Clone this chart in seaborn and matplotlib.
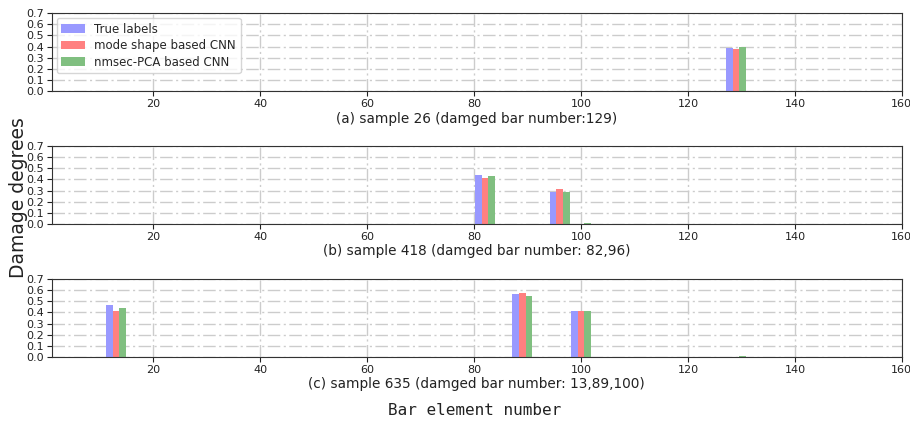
import numpy as np
import pandas as pd
import matplotlib
matplotlib.use("Agg")
import matplotlib.pyplot as plt
from matplotlib.patches import Patch
import seaborn as sns

# Number of bar elements in the structure
n_elements = 160

series_names = ["True labels", "mode shape based CNN", "nmsec-PCA based CNN"]
series_colors = ["#9999ff", "#ff8080", "#80bf80"]

# Sample 26: damaged elements and predicted damage degrees
s26_bars = [101, 129]
s26_true = [0.0, 0.390]
s26_mode = [0.004, 0.378]
s26_pca = [0.0, 0.398]

# Sample 418
s418_bars = [82, 96, 100]
s418_true = [0.437, 0.291, 0.0]
s418_mode = [0.414, 0.312, 0.0]
s418_pca = [0.432, 0.292, 0.006]

# Sample 635
s635_bars = [13, 89, 100, 129]
s635_true = [0.465, 0.561, 0.411, 0.0]
s635_mode = [0.417, 0.577, 0.411, 0.0]
s635_pca = [0.435, 0.546, 0.417, 0.005]

panel_titles = [
    "(a) sample 26 (damged bar number:129)",
    "(b) sample 418 (damged bar number: 82,96)",
    "(c) sample 635 (damged bar number: 13,89,100)",
]

y_ticks = [0.0, 0.1, 0.2, 0.3, 0.4, 0.5, 0.6, 0.7]
x_ticks = [20, 40, 60, 80, 100, 120, 140, 160]

samples = [
    (s26_bars, [s26_true, s26_mode, s26_pca]),
    (s418_bars, [s418_true, s418_mode, s418_pca]),
    (s635_bars, [s635_true, s635_mode, s635_pca]),
]


def build_frame(bars, series_values):
    elements = np.arange(1, n_elements + 1)
    frames = []
    for name, values in zip(series_names, series_values):
        damage = np.zeros(n_elements)
        damage[np.asarray(bars) - 1] = values
        frames.append(pd.DataFrame({"element": elements, "damage": damage, "series": name}))
    return pd.concat(frames, ignore_index=True)


sns.set_style("ticks", {
    "axes.grid": True,
    "grid.color": "#cccccc",
    "axes.edgecolor": "#333333",
    "axes.linewidth": 1.0,
})
plt.rcParams["grid.linewidth"] = 1.0
plt.rcParams["font.family"] = ["DejaVu Sans"]

fig = plt.figure(figsize=(9.1, 4.22), dpi=100)
palette = dict(zip(series_names, series_colors))

ax_left, ax_width, ax_height = 0.057, 0.934, 0.185
ax_bottoms = [0.784, 0.469, 0.154]

for i, ((bars, vals), title) in enumerate(zip(samples, panel_titles)):
    ax = fig.add_axes([ax_left, ax_bottoms[i], ax_width, ax_height])
    ax.set_axisbelow(True)
    df = build_frame(bars, vals)
    sns.barplot(
        data=df, x="element", y="damage", hue="series",
        hue_order=series_names, palette=palette, native_scale=True,
        width=3.75, saturation=1, linewidth=0, errorbar=None,
        legend=False, ax=ax,
    )
    ax.set_xlim(1, 160)
    ax.set_ylim(0, 0.7)
    ax.set_yticks(y_ticks)
    ax.set_yticklabels([f"{t:.1f}" for t in y_ticks])
    ax.set_xticks(x_ticks)
    ax.set_xticklabels([str(t) for t in x_ticks])
    ax.grid(True, linestyle=(0, (9, 2.5, 1.5, 2.5)), color="#cccccc", linewidth=1.0)
    ax.tick_params(labelsize=8, length=3.5, width=0.8, pad=2, colors="#222222")
    ax.set_ylabel("")
    ax.set_xlabel(title, fontsize=9.8, labelpad=2, color="#222222")
    for side in ["top", "right", "left", "bottom"]:
        ax.spines[side].set_visible(True)
    if i == 0:
        handles = [Patch(facecolor=c, edgecolor="none") for c in series_colors]
        ax.legend(handles, series_names, loc="upper left", fontsize=8.5,
                  frameon=True, framealpha=0.8, borderaxespad=0.4,
                  handlelength=2.0, labelspacing=0.3)

fig.text(0.02, 0.531, "Damage degrees", rotation=90, fontsize=13.5,
         ha="center", va="center", color="#222222")
fig.text(0.522, 0.028, "Bar element number", family="DejaVu Sans Mono",
         fontsize=11.5, ha="center", va="center", color="#222222")

fig.savefig("out.png", dpi=100)
